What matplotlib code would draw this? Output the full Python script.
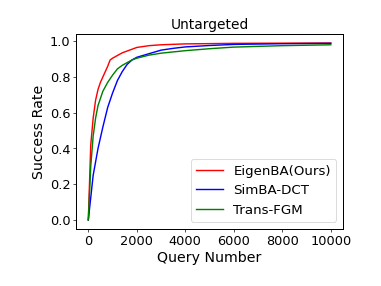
import matplotlib
matplotlib.use("Agg")
import matplotlib.pyplot as plt

plt.rcParams["font.size"] = 16
plt.rcParams["axes.linewidth"] = 1.2

eigen_x = [0, 100, 200, 300, 400, 500, 600, 700, 800, 900, 1000, 1200, 1400, 1600, 1800, 2000, 2500, 3000, 4000, 6000, 10000]
eigen_y = [0, 0.42, 0.57, 0.67, 0.73, 0.77, 0.80, 0.83, 0.86, 0.895, 0.905, 0.92, 0.935, 0.945, 0.955, 0.965, 0.975, 0.98, 0.985, 0.988, 0.99]

simba_x = [0, 200, 400, 600, 800, 1000, 1200, 1400, 1600, 1800, 2000, 2500, 3000, 3500, 4000, 5000, 6000, 8000, 10000]
simba_y = [0, 0.25, 0.40, 0.52, 0.63, 0.71, 0.78, 0.83, 0.87, 0.895, 0.91, 0.93, 0.95, 0.96, 0.968, 0.976, 0.982, 0.986, 0.988]

fgm_x = [0, 100, 200, 300, 400, 600, 800, 1000, 1200, 1400, 1600, 1800, 2000, 2500, 3000, 4000, 5000, 6000, 8000, 10000]
fgm_y = [0, 0.30, 0.47, 0.57, 0.64, 0.72, 0.77, 0.81, 0.845, 0.865, 0.88, 0.895, 0.905, 0.922, 0.933, 0.947, 0.958, 0.967, 0.975, 0.98]

fig, ax = plt.subplots(figsize=(6.35, 4.77), dpi=60)
fig.subplots_adjust(left=0.2, bottom=0.2, right=0.9, top=0.88)

ax.plot(eigen_x, eigen_y, color="red", lw=1.7, label="EigenBA(Ours)")
ax.plot(simba_x, simba_y, color="blue", lw=1.7, label="SimBA-DCT")
ax.plot(fgm_x, fgm_y, color="green", lw=1.7, label="Trans-FGM")

ax.tick_params(labelsize=15.5)
ax.set_xlabel("Query Number", fontsize=17)
ax.set_ylabel("Success Rate", fontsize=17)
ax.set_title("Untargeted", fontsize=16.5)
ax.legend(loc="lower right", fontsize=16)

plt.savefig("out.png", dpi=60)
